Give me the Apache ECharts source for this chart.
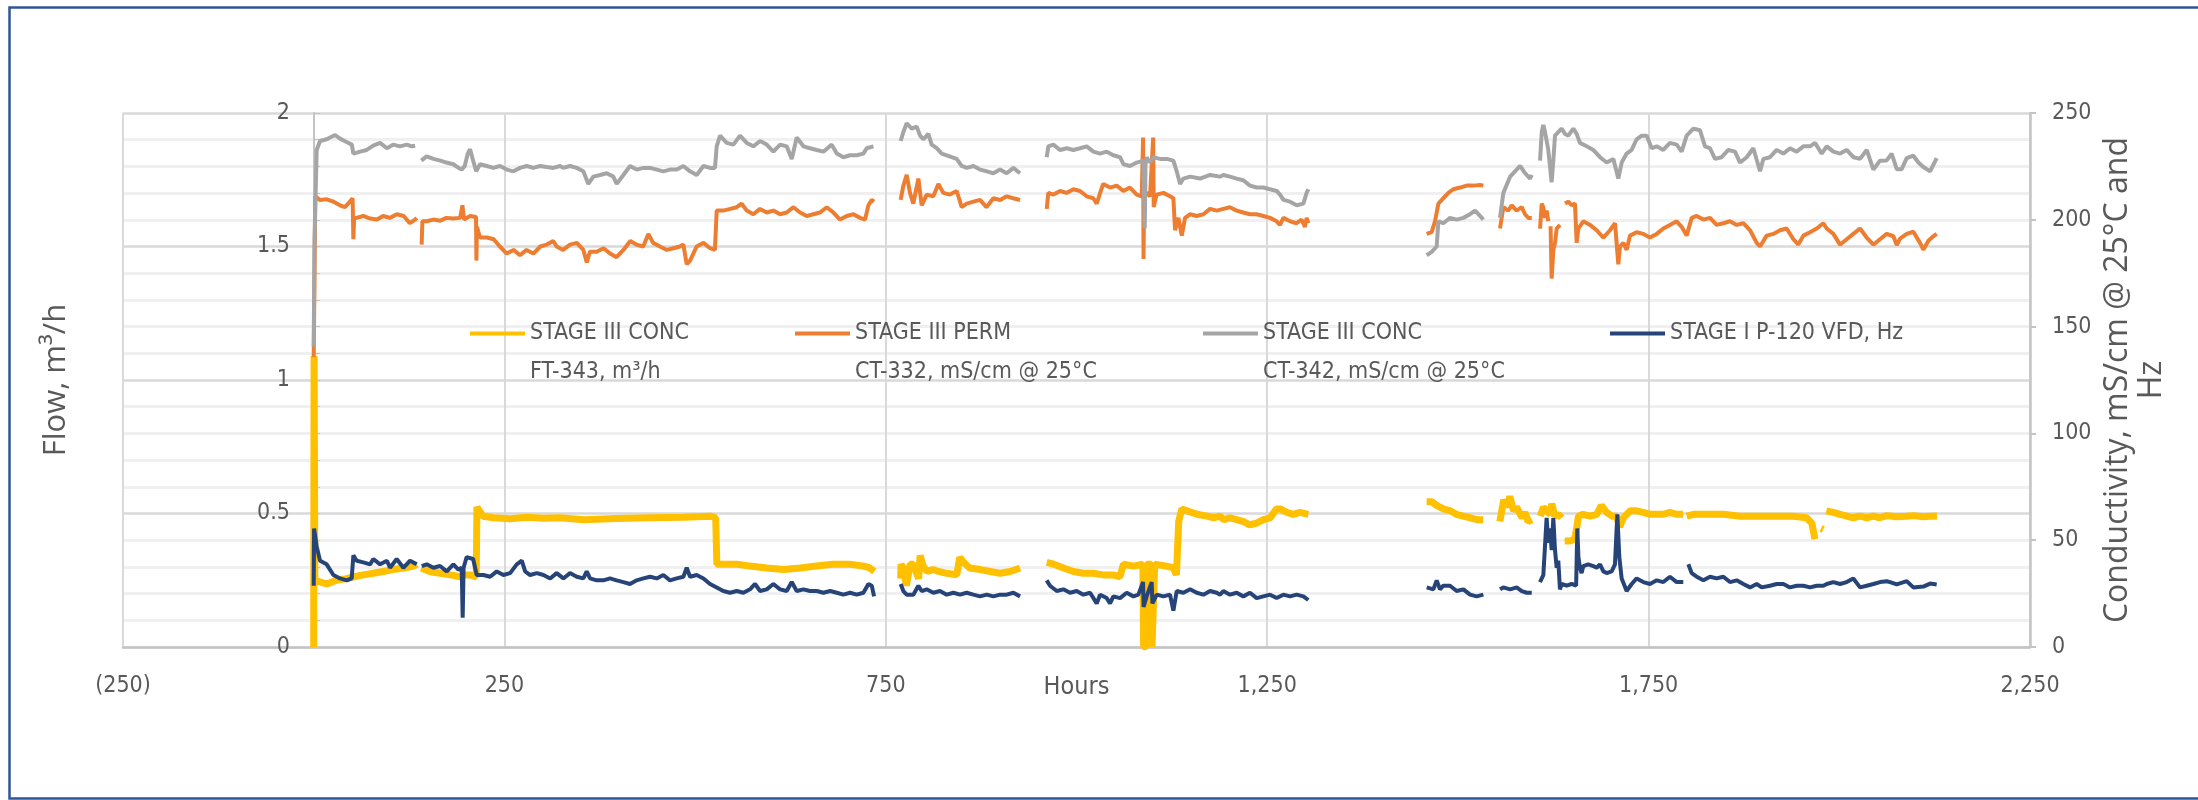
<!DOCTYPE html>
<html>
<head>
<meta charset="utf-8">
<title>Stage III flow and conductivity</title>
<script src="https://cdn.jsdelivr.net/npm/echarts@6/dist/echarts.min.js"></script>
<style>
  html, body { margin: 0; padding: 0; background: #fff; }
  #chart { width: 2198px; height: 800px; }
</style>
</head>
<body>
<div id="chart"></div>
<script>
"use strict";
var concFlow = [[0,0],[0.5,1.09],[1.5,0.25],[4,0.243],[17,0.236],[30,0.25],[43,0.256],[52,0.263],[65,0.27],[78,0.276],[91,0.283],[104,0.29],[118,0.296],[131,0.303],[135,0.31],[137,null],
  [141,0.296],[152,0.283],[166,0.276],[179,0.27],[192,0.263],[196,0.27],[205,0.27],[213,0.263],[214,0.524],[222,0.49],[236,0.484],[257,0.48],[279,0.486],[301,0.482],[323,0.484],[354,0.477],[397,0.481],[441,0.484],[485,0.486],[520,0.49],[527,0.484],
  [528.5,0.31],[537,0.31],[555,0.31],[572,0.303],[594,0.296],[616,0.29],[638,0.296],[659,0.303],[681,0.31],[703,0.31],[721,0.303],[729,0.296],[735,0.283],[750,null],
  [769.5,0.256],[770,0.31],[773,0.296],[777,0.23],[782,0.31],[786,0.31],[793,0.256],[795,0.343],[799,0.303],[804,0.283],[812,0.29],[819,0.283],[830,0.276],[843,0.27],[847,0.336],[852,0.317],[860,0.296],[874,0.29],[887,0.283],[900,0.276],[913,0.283],[926,0.296],[940,null],
  [961,0.317],[970,0.31],[983,0.296],[996,0.283],[1009,0.276],[1022,0.276],[1035,0.27],[1048,0.27],[1057,0.263],[1061.5,0.31],[1075,0.303],[1087,0.31],[1088,0],[1091,0],[1092,0.31],[1098,0.31],[1099,0],[1101.5,0],[1102.5,0.31],[1105,0.31],[1118,0.303],[1127,0.296],[1131,0.27],[1134,0.47],[1138,0.517],[1145,0.51],[1158,0.497],[1171,0.49],[1180,0.484],[1188,0.49],[1193,0.477],[1201,0.484],[1210,0.477],[1219,0.47],[1227,0.457],[1236,0.464],[1245,0.477],[1254,0.484],[1262,0.517],[1267,0.517],[1276,0.504],[1284,0.497],[1293,0.504],[1304,0.497],[1380,null],
  [1459,0.544],[1466,0.544],[1472,0.53],[1481,0.517],[1490,0.51],[1498,0.497],[1507,0.49],[1516,0.484],[1525,0.477],[1533,0.477],[1545,null],
  [1555,0.47],[1560,0.551],[1564,0.524],[1568,0.564],[1573,0.51],[1577,0.524],[1584,0.484],[1588,0.504],[1592,0.47],[1597,0.477],[1601,null],
  [1608,0.49],[1612,0.524],[1616,0.51],[1621,0.497],[1623,0.537],[1627,0.49],[1632,0.497],[1636,0.484],[1638,null],[1640,0.397],[1647,0.397],[1653,0.404],[1656,0.45],[1658,0.49],[1664,0.497],[1673,0.49],[1682,0.497],[1688,0.53],[1695,0.504],[1702,0.49],[1708,0.49],[1712,0.45],[1717,0.484],[1726,0.51],[1734,0.51],[1743,0.504],[1752,0.497],[1761,0.497],[1769,0.497],[1778,0.504],[1787,0.497],[1795,0.497],[1797.5,null],
  [1800,0.49],[1809,0.497],[1826,0.497],[1848,0.497],[1870,0.49],[1892,0.49],[1914,0.49],[1940,0.49],[1957,0.484],[1964,0.464],[1968,0.404],[1970,null],[1976,0.444],[1979,0.44],[1980.5,null],
  [1983,0.51],[1992,0.504],[2001,0.497],[2010,0.49],[2018,0.484],[2027,0.49],[2036,0.484],[2045,0.49],[2053,0.484],[2062,0.492],[2075,0.488],[2088,0.49],[2097,0.492],[2110,0.488],[2119,0.49],[2128,0.491]];

var permCond = [[0,135.7],[1,170],[2,211],[4,210.1],[8,209.3],[17,209.6],[26,208.5],[34.5,206.8],[41,205.9],[47.5,208.5],[51,210.1],[52,190.9],[53,200.9],[56,200.9],[65,201.8],[74,200.6],[83,200.1],[91,201.8],[100,200.9],[109,202.6],[118,201.8],[126,198.4],[133,200.1],[135,200.9],[138,null],
  [141.5,188.4],[142.5,199.3],[148,199.3],[157,200.1],[166,199.6],[174,200.9],[183,200.6],[192,200.9],[195,206.8],[197,200.1],[205,201.8],[212.8,201.3],[213.3,180.9],[214,196.7],[218,191.7],[227,191.7],[236,190.9],[244,187.5],[253,184.2],[262,185.9],[270.5,183.4],[279,185.9],[288,184.2],[297,187.5],[305.5,188.4],[314,190.1],[318.5,187.5],[327,185.9],[336,188.4],[345,189.2],[353.5,185.9],[358,180],[362,185],[371,185],[380,186.7],[388.5,184.2],[397,182.5],[406,185.9],[415,190.1],[423,188.4],[432,187.5],[438.7,193.4],[445,189.2],[454,187.5],[463,185.9],[471.5,186.7],[480,187.5],[484.6,188.4],[489,179.2],[493.4,180.9],[502,187.5],[511,189.2],[519.6,186.7],[526,185.9],
  [528.3,204.3],[537,204.3],[546,205.1],[554.6,205.9],[561,207.6],[567.7,204.3],[576.4,202.6],[585,205.1],[594,203.4],[602.6,204.3],[611.4,202.6],[620,203.4],[629,205.9],[637.6,203.4],[646.3,201.8],[655,202.6],[663.8,203.4],[672.6,205.9],[681.3,203.4],[690,200.1],[698.8,201.8],[707.5,202.6],[716.3,200.9],[722.8,200.1],[727.2,206.8],[731.6,209.3],[734.6,208.5],[750,null],
  [769.5,209.3],[773,216],[777.4,221],[781.7,212.6],[786,207.6],[792.7,219.3],[797,206.8],[803.6,211.8],[812.3,211],[818.9,216.8],[825.4,212.6],[834,211.8],[843,213.5],[849.5,205.9],[856,207.6],[865,208.5],[873.5,209.3],[882,205.9],[891,210.1],[900,209.3],[908.5,211],[917,210.1],[926,209.3],[940,null],
  [961,205.1],[963,212.6],[970,211.8],[978.4,213.5],[987,212.6],[996,214.3],[1004.6,213.5],[1013.4,211],[1022,210.1],[1026.5,207.6],[1031,212.6],[1035,216.8],[1044,215.1],[1052.7,216],[1061.5,213.5],[1070,215.1],[1079,211.8],[1085.5,211],[1087.3,238.5],[1087.9,181.7],[1088.6,212],[1092,212.6],[1096.4,211],[1100.5,238.5],[1101.2,206],[1105,211.8],[1114,212.6],[1122.6,211],[1127,210.1],[1129.2,195.1],[1133.6,200.9],[1138,192.6],[1142.3,200.9],[1149,202.6],[1157.6,201.8],[1166.4,202.6],[1175,205.1],[1184,204.3],[1192.5,205.1],[1201,205.9],[1210,204.3],[1218.7,203.4],[1227.4,202.6],[1236,202.6],[1245,201.8],[1253.7,200.9],[1262.4,199.3],[1266.8,197.6],[1271.2,200.9],[1280,199.3],[1288.6,198.4],[1295,200.1],[1299.6,196.7],[1301.7,200.9],[1304,198.4],[1380,null],
  [1459,193.4],[1465.6,194.2],[1470,199.3],[1474.4,207.6],[1481,210.1],[1487.5,212.6],[1494,214.3],[1502.8,215.1],[1511.5,216],[1520.3,216],[1529,216.3],[1533.4,216],[1545,null],
  [1555.2,195.9],[1559.6,205.9],[1566,204.3],[1570.5,206.8],[1577,204.3],[1583.7,205.9],[1588,202.6],[1592.4,200.9],[1596.8,200.9],[1601,null],
  [1607.7,195.9],[1609.9,207.6],[1612,205.9],[1614.2,200.9],[1616.4,204.3],[1618.5,199.3],[1620.5,null],[1621.5,197],[1622.9,172.5],[1625.1,185.9],[1627.3,189.2],[1629.5,195.9],[1633.8,197.6],[1637,null],
  [1640.4,207.6],[1644.8,208.5],[1649.1,206.8],[1653.5,207.6],[1655.7,189.2],[1657.9,195.9],[1664.4,199.3],[1673.2,197.6],[1681.9,195.1],[1690.7,191.7],[1699.4,195.1],[1706,198.4],[1710.3,179.2],[1712.5,187.5],[1716.9,189.2],[1721.2,185.9],[1725.6,192.6],[1734.3,194.2],[1743.1,193.4],[1751.8,191.7],[1760.6,193.4],[1769.3,195.9],[1778,197.6],[1786.8,199.3],[1793.3,196.7],[1799.9,192.6],[1806.5,200.9],[1813,201.8],[1821.8,200.1],[1830.5,200.9],[1839.2,197.6],[1848,198.4],[1856.7,199.3],[1865.5,197.6],[1874.2,198.4],[1883,195.1],[1891.7,189.2],[1896.1,187.5],[1904.8,192.6],[1913.5,193.4],[1922.3,195.1],[1931,195.9],[1939.8,190.9],[1946.3,188.4],[1952.9,192.6],[1961.6,194.2],[1970.4,195.9],[1979.1,198.4],[1983.5,195.9],[1992.2,193.4],[2001,188.4],[2009.7,190.9],[2018.4,193.4],[2027.2,195.9],[2035.9,191.7],[2044.7,188.4],[2053.4,190.9],[2062.1,193.4],[2070.9,192.3],[2075.3,188.2],[2079.6,191.2],[2088.4,193.4],[2097.1,194.4],[2105.8,189.2],[2110.2,186],[2116.8,190.2],[2123.3,192.3],[2127.7,193.4]];

var concCond = [[0,140.7],[1,190],[3.9,232.7],[8.3,236.9],[17,237.7],[28,239.7],[34.5,238],[43,236.4],[50,235.2],[52,231],[61,231.9],[69.5,232.7],[78,234.7],[87,236],[96,233.5],[104.5,235.2],[113,234.4],[122,235.2],[128.5,234.4],[133,234.7],[137,null],
  [141,227.7],[148,229.7],[157,228.5],[166,227.7],[174,226.8],[183,226],[190,224.3],[194,223.5],[198,225.2],[202,231],[205,233],[208,229],[213,222.7],[218,226],[227,225.2],[235.6,224.3],[244.3,225.2],[253.1,223.5],[261.8,222.7],[270.5,224.3],[279.3,225.2],[288,224.3],[296.8,225.2],[305.5,224.7],[314.2,224.3],[323,225.2],[327.3,224.3],[336,225.2],[344.8,224.3],[353.5,222.7],[360,216.8],[366.6,220.2],[375.4,221],[384.1,221.8],[392.8,220.2],[397.2,216.8],[406,221],[414.7,225.2],[423.4,223.5],[432.2,224.3],[440.9,224.3],[449.7,223.5],[458.4,222.7],[467.1,223.5],[475.9,223.5],[484.6,225.2],[493.4,222.7],[502.1,221],[510.9,225.2],[519.6,224.3],[526.1,224.3],
  [528.3,234.4],[532.7,239.4],[541.4,236],[550.2,235.2],[558.9,239.4],[567.7,236],[576.4,234.4],[585.2,236.9],[593.9,235.2],[602.6,231.9],[611.4,235.2],[620.1,234.4],[626.7,228.5],[633.2,238.5],[642,234.4],[650.7,233.5],[659.4,232.7],[668.2,231.9],[679.1,235.2],[685.7,231],[694.4,229.3],[703.2,230.2],[711.9,230.2],[720.6,231],[725,233.5],[733.8,234.4],[750,null],
  [769.5,236.9],[773,241.1],[777.4,245.2],[783.9,242.7],[790.5,243.6],[794.9,239.4],[799.2,237.7],[805.8,240.2],[810.1,235.2],[816.7,233.5],[823.3,231],[829.8,230.2],[836.4,229.3],[842.9,228.5],[849.5,225.2],[856,224.3],[864.8,225.2],[873.5,223.5],[882.3,222.7],[891,221.8],[899.7,223.5],[908.5,221.8],[917.2,224.3],[926,221.8],[940,null],
  [960.9,229.3],[963.1,234.4],[969.7,235.2],[978.4,232.7],[987.2,233.5],[995.9,232.7],[1004.6,233.5],[1013.4,234.4],[1022.1,231.9],[1030.9,231],[1039.6,231.9],[1048.3,230.2],[1057.1,229.3],[1061.5,226],[1070.2,225.2],[1079,226.8],[1087.7,227.7],[1089.5,195.9],[1090.5,226],[1092,229.3],[1096.4,226.8],[1100.8,229.3],[1109.5,228.5],[1118.3,228.5],[1127,227.7],[1131.4,222.7],[1135.8,216.8],[1140.1,219.3],[1148.9,220.2],[1162,219.3],[1175.1,221],[1188.2,220.2],[1192.5,221],[1201.2,220.2],[1210,219.3],[1218.7,218.5],[1227.4,216],[1236.2,215.1],[1244.9,215.1],[1253.7,214.3],[1262.4,213.5],[1266.8,211.8],[1271.2,209.3],[1279.9,208.5],[1288.6,206.8],[1297.4,207.6],[1301.7,212.6],[1303.9,214.3],[1380,null],
  [1459.1,183.4],[1465.6,185],[1472.2,187.5],[1474.4,199.3],[1480.9,198.4],[1489.7,200.9],[1498.4,200.1],[1507.2,200.9],[1515.9,202.6],[1522.5,204.3],[1529,201.8],[1533.4,200.1],[1545,null],
  [1555.2,200.9],[1559.6,212.6],[1568.4,220.2],[1574.9,222.7],[1581.5,225.2],[1588,221.8],[1594.6,219.3],[1596.8,221],[1601,null],
  [1607.7,227.7],[1609.9,241.1],[1612,244.4],[1614.2,241.1],[1618.5,232.7],[1622.9,217.6],[1625.1,227.7],[1627.3,239.4],[1631.6,241.1],[1636,242.7],[1640.4,240.2],[1644.8,239.4],[1651.3,242.7],[1655.7,240.2],[1660,236],[1668.8,234.4],[1677.5,232.7],[1686.3,229.3],[1695,226.8],[1703.8,228.5],[1710.3,219.3],[1714.7,226.8],[1721.2,231],[1727.8,232.7],[1734.3,237.7],[1740.9,239.4],[1747.5,239.4],[1754,233.5],[1760.6,234.4],[1769.3,232.7],[1778,236],[1786.8,235.2],[1793.3,231.9],[1799.9,239.4],[1808.6,242.7],[1817.4,241.9],[1823.9,234.4],[1830.5,233.5],[1837.1,228.5],[1845.8,229.3],[1854.5,232.7],[1863.3,231.9],[1869.8,226.8],[1878.6,229.3],[1887.3,233.5],[1896.1,222.7],[1900.4,228.5],[1909.2,229.3],[1917.9,232.7],[1926.7,231],[1935.4,233.5],[1944.1,231.9],[1952.9,234.4],[1961.6,234.4],[1968.2,236],[1976.9,231],[1983.5,234.4],[1992.2,231.9],[2001,231],[2009.7,232.7],[2018.4,229.3],[2027.2,228.5],[2035.9,232.7],[2044.7,223.5],[2053.4,227.7],[2062.1,227.8],[2068.7,231],[2075.3,223.7],[2081.8,223.7],[2088.4,228.9],[2097.1,230],[2103.7,226.8],[2110.2,224.7],[2119,222.7],[2127.7,228.9]];

var vfdHz = [[0,28.7],[0.5,55.5],[3.9,47.1],[8.3,40.4],[17,38.7],[25.8,33.7],[34.5,32.1],[43.3,31.2],[49.8,32.1],[52,42.9],[56.4,40.4],[65.1,39.6],[73.9,38.7],[78.2,41.2],[87,38.7],[96,40.4],[100.1,37.1],[108.8,41.2],[117.6,37.1],[126.3,40.4],[130.7,39.6],[135,38.7],[137,null],
  [141.6,37.9],[148.2,38.7],[156.9,37.1],[165.6,37.9],[174.4,35.4],[183.1,38.7],[189.7,36.2],[194,37.1],[195.3,13.7],[196.5,37.1],[200.5,42.1],[209,41.2],[213.7,33.7],[222.5,33.7],[231.3,32.9],[240,35.4],[248.7,33.7],[257.5,34.6],[266.2,38.7],[272.8,40.4],[277.2,35.4],[283.7,33.7],[292.5,34.6],[301.2,33.7],[310,32.1],[318.5,34.6],[327.3,32.1],[336,34.6],[344.8,32.9],[353.5,32.1],[357.9,35.4],[362.3,32.1],[371,31.2],[379.7,31.2],[388.5,32.1],[397.2,31.2],[406,30.4],[414.7,29.5],[423.4,31.2],[432.2,32.1],[440.9,32.9],[449.7,32.1],[458.4,33.7],[467.1,31.2],[475.9,32.1],[484.6,32.9],[489,37.1],[493.4,32.9],[502.1,33.7],[510.9,32.1],[519.6,29.5],[528.3,27.9],[537,26.2],[545.8,25.4],[554.6,26.2],[563.3,25.4],[572,27],[578.6,29.5],[585.2,26.2],[593.9,27],[602.6,29.5],[611.4,27],[620.1,26.2],[626.7,30.4],[633.2,26.2],[642,27],[650.7,26.2],[659.4,26.2],[668.2,25.4],[677,26.2],[685.7,25.4],[694.4,24.5],[703.2,25.4],[711.9,24.5],[720.6,25.4],[727.2,29.5],[731.6,28.7],[734.6,23.7],[750,null],
  [769.5,29.5],[773,26.2],[777.4,24.5],[786.1,24.5],[792.7,28.7],[797,26.2],[803.6,27],[812.3,25.4],[821.1,26.2],[829.8,24.5],[838.6,25.4],[847.3,24.5],[856,25.4],[864.8,24.5],[873.5,23.7],[882.3,24.5],[891,23.7],[899.7,24.5],[908.5,24.5],[917.2,25.4],[926,23.7],[940,null],
  [960.9,31.2],[965.3,28.7],[974.1,26.2],[982.8,27],[991.5,25.4],[1000.3,26.2],[1009,24.5],[1017.8,25.4],[1026.5,20.4],[1030.9,24.5],[1039.6,22.9],[1044,20.4],[1048.3,23.7],[1057.1,22.9],[1065.8,25.4],[1074.6,23.7],[1081.1,24.5],[1087.3,30.4],[1087.9,18.7],[1092,23.7],[1098.6,30.4],[1099.5,20.4],[1105.2,24.5],[1113.9,23.7],[1122.6,24.5],[1127,17],[1131.4,26.2],[1140.1,25.4],[1148.9,27],[1157.6,25.4],[1166.4,24.5],[1175.1,26.2],[1183.8,25.4],[1188.2,24.5],[1192.5,26.2],[1201.2,24.5],[1210,25.4],[1218.7,23.7],[1227.4,25.4],[1236.2,22.9],[1244.9,23.7],[1253.7,24.5],[1262.4,22.9],[1271.2,24.5],[1279.9,23.7],[1288.6,24.5],[1297.4,23.7],[1303.9,22],[1380,null],
  [1459.1,27.9],[1467.8,27],[1472.2,31.2],[1476.5,27],[1480.9,28.7],[1489.7,28.7],[1498.4,26.2],[1507.2,27],[1515.9,24.5],[1524.6,23.7],[1533.4,24.5],[1545,null],
  [1555.2,27],[1559.6,27.9],[1568.4,27],[1577.1,27.9],[1583.7,26.2],[1590.2,25.4],[1596.8,25.4],[1601,null],
  [1607.6,30.4],[1612,33.7],[1616.3,60.4],[1618.5,48.8],[1620.7,55.5],[1622.9,45.4],[1625.1,60.4],[1627.3,45.4],[1629.5,37.1],[1631.6,40.4],[1633.8,27],[1636,29.5],[1642.6,28.7],[1649.1,29.5],[1655,28.7],[1656.5,55.5],[1658,42.1],[1660,37.1],[1662.2,34.6],[1664.4,37.9],[1670.9,38.7],[1677.5,37.9],[1681.9,37.1],[1686.3,38.7],[1690.7,35.4],[1695,34.6],[1701.6,35.4],[1705.9,38.7],[1709,62.1],[1711.6,42.1],[1714.7,32.1],[1721.2,26.2],[1727.8,29.5],[1734.3,32.1],[1743.1,30.4],[1751.8,29.5],[1760.6,31.2],[1769.3,30.4],[1778,32.9],[1786.8,30.4],[1795.5,30.4],[1798,null],
  [1802.1,38.7],[1806.5,34.6],[1813,32.9],[1821.8,31.2],[1830.5,32.9],[1839.2,32.1],[1848,32.9],[1856.7,30.4],[1865.5,31.2],[1874.2,29.5],[1883,27.9],[1891.7,29.5],[1898.3,27.9],[1909.2,28.7],[1917.9,29.5],[1926.7,29.5],[1935.4,27.9],[1944.1,28.7],[1952.9,28.7],[1961.6,27.9],[1970.4,28.7],[1979.1,28.7],[1983.5,29.5],[1992.2,30.4],[2001,29.5],[2009.7,30.4],[2018.4,32.1],[2027.2,27.9],[2035.9,28.7],[2044.7,29.5],[2053.4,30.4],[2062.1,30.8],[2066.5,30.4],[2075.3,29.3],[2088.4,30.8],[2097.1,27.9],[2110.2,28.3],[2119,29.7],[2127.7,29.3]];

var seriesNames = ['STAGE III CONC\nFT-343, m³/h', 'STAGE III PERM\nCT-332, mS/cm @ 25°C', 'STAGE III CONC\nCT-342, mS/cm @ 25°C', 'STAGE I P-120 VFD, Hz'];
var seriesColors = ['#FFC000', '#ED7D31', '#A5A5A5', '#264478'];
var hoursRange = [-250, 2250];
var flowRange = [0, 2];
var condRange = [0, 250];

var LABEL_FONT = "'DejaVu Sans Condensed', 'Liberation Sans Narrow', 'Liberation Sans', sans-serif";
var TITLE_FONT = "'Open Sans', sans-serif";
var GREY_TEXT = '#595959';
var AXIS_GREY = '#c4c4c4';

function hoursLabel(v) {
  var s = Math.abs(v).toLocaleString('en-US');
  return v < 0 ? '(' + s + ')' : s;
}

// legend bar sits on the first text line, not the middle of the block
var twoLineIcon = 'path://M0,0H55V4H0ZM0,43H0.01V43.01H0Z';
var oneLineIcon = 'path://M0,0H55V4H0Z';
var legendLeft = [470, 795, 1203, 1610];

var legends = seriesNames.map(function (name, i) {
  var twoLines = name.indexOf('\n') > -1;
  return {
    data: [name],
    left: legendLeft[i],
    top: 314,
    padding: 0,
    selectedMode: false,
    icon: twoLines ? twoLineIcon : oneLineIcon,
    itemWidth: 55,
    itemHeight: twoLines ? 43 : 4,
    itemStyle: { borderWidth: 0 },
    textStyle: { fontFamily: LABEL_FONT, fontSize: 23, color: GREY_TEXT, lineHeight: 39 }
  };
});

function lineSeries(name, data, color, axis, width) {
  return {
    name: name,
    type: 'line',
    yAxisIndex: axis,
    data: data,
    showSymbol: false,
    symbol: 'none',
    connectNulls: false,
    lineStyle: { color: color, width: width },
    itemStyle: { color: color },
    emphasis: { disabled: true }
  };
}

var chart = echarts.init(document.getElementById('chart'));
chart.setOption({
  animation: false,
  backgroundColor: '#fff',
  grid: { left: 123, right: 168, top: 113, bottom: 153, outerBoundsMode: 'none' },
  legend: legends,
  xAxis: {
    type: 'value',
    min: hoursRange[0],
    max: hoursRange[1],
    interval: 500,
    name: 'Hours',
    nameLocation: 'middle',
    nameGap: 28,
    nameMoveOverlap: false,
    nameTextStyle: { fontFamily: LABEL_FONT, fontSize: 25, color: GREY_TEXT, verticalAlign: 'top' },
    axisLine: { onZero: false, lineStyle: { color: AXIS_GREY, width: 2.5 } },
    axisTick: { show: false },
    axisLabel: { formatter: hoursLabel, margin: 28, fontFamily: LABEL_FONT, fontSize: 23, color: GREY_TEXT },
    splitLine: { show: true, lineStyle: { color: '#d9d9d9', width: 2 } }
  },
  yAxis: [{
    // Excel puts this axis where hours = 0, so shift it into the plot
    type: 'value',
    position: 'left',
    offset: -191,
    min: flowRange[0],
    max: flowRange[1],
    interval: 0.5,
    name: 'Flow, m³/h',
    nameLocation: 'middle',
    nameRotate: 90,
    nameGap: 242,
    nameMoveOverlap: false,
    nameTextStyle: { fontFamily: TITLE_FONT, fontSize: 31, color: GREY_TEXT },
    axisLine: { show: true, onZero: false, lineStyle: { color: AXIS_GREY, width: 2 } },
    axisTick: { show: true, inside: true, length: 6, lineStyle: { color: AXIS_GREY } },
    minorTick: { show: true, splitNumber: 5, length: 6, lineStyle: { color: AXIS_GREY } },
    axisLabel: { margin: 24, fontFamily: LABEL_FONT, fontSize: 23, color: GREY_TEXT },
    splitLine: { show: true, lineStyle: { color: '#d9d9d9', width: 2.5 } },
    minorSplitLine: { show: true, lineStyle: { color: '#f0f0f0', width: 3 } }
  }, {
    type: 'value',
    position: 'right',
    min: condRange[0],
    max: condRange[1],
    interval: 50,
    name: 'Conductivity, mS/cm @ 25°C and\nHz',
    nameLocation: 'middle',
    nameRotate: 90,
    nameGap: 71,
    nameMoveOverlap: false,
    nameTextStyle: { fontFamily: TITLE_FONT, fontSize: 32, color: GREY_TEXT, lineHeight: 34, align: 'center' },
    axisLine: { show: true, onZero: false, lineStyle: { color: AXIS_GREY, width: 2.5 } },
    axisTick: { show: true, length: 6, lineStyle: { color: AXIS_GREY, width: 2 } },
    axisLabel: { margin: 22, fontFamily: LABEL_FONT, fontSize: 23, color: GREY_TEXT },
    splitLine: { show: false }
  }],
  graphic: [{
    type: 'rect',
    left: 7,
    top: 5,
    silent: true,
    z: -10,
    shape: { width: 2196, height: 791 },
    style: { fill: 'none', stroke: '#2F5597', lineWidth: 2.5 }
  }],
  series: [
    lineSeries(seriesNames[0], concFlow, seriesColors[0], 0, 7),
    lineSeries(seriesNames[1], permCond, seriesColors[1], 1, 4),
    lineSeries(seriesNames[2], concCond, seriesColors[2], 1, 4),
    lineSeries(seriesNames[3], vfdHz, seriesColors[3], 1, 4)
  ]
});
</script>
</body>
</html>
